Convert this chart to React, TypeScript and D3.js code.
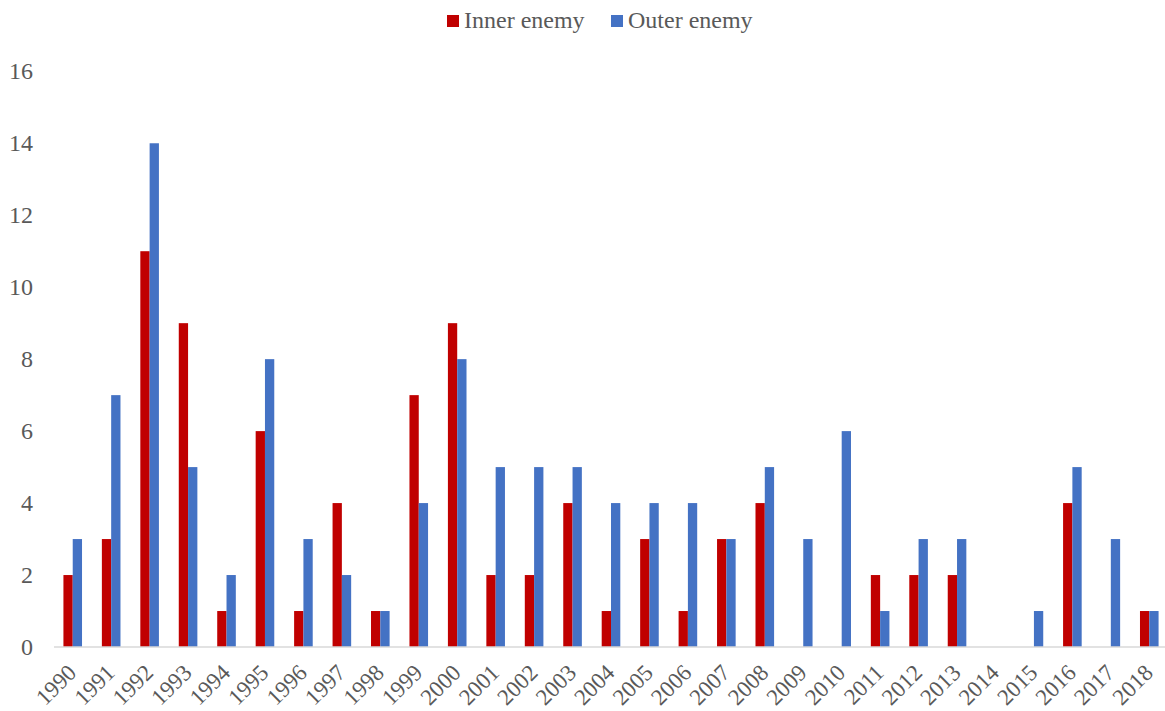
import React from "react";
import * as d3 from "d3";

const years = [
  "1990", "1991", "1992", "1993", "1994", "1995", "1996", "1997", "1998", "1999",
  "2000", "2001", "2002", "2003", "2004", "2005", "2006", "2007", "2008", "2009",
  "2010", "2011", "2012", "2013", "2014", "2015", "2016", "2017", "2018",
];
const innerEnemy = [2, 3, 11, 9, 1, 6, 1, 4, 1, 7, 9, 2, 2, 4, 1, 3, 1, 3, 4, 0, 0, 2, 2, 2, 0, 0, 4, 0, 1];
const outerEnemy = [3, 7, 14, 5, 2, 8, 3, 2, 1, 4, 8, 5, 5, 5, 4, 4, 4, 3, 5, 3, 6, 1, 3, 3, 0, 1, 5, 3, 1];
const seriesNames = ["Inner enemy", "Outer enemy"];
const seriesColors = ["#C00000", "#4472C4"];
const yTicks = [0, 2, 4, 6, 8, 10, 12, 14, 16];

const W = 1165;
const H = 711;
const FONT = '"Liberation Serif", "DejaVu Serif", serif';
const TEXT = "#595959";

export default function App() {
  const x = d3.scaleBand<string>().domain(years).range([53.5, 1168.5]).padding(0);
  const y = d3.scaleLinear().domain([0, 16]).range([647, 71.3]);
  const barW = 9.3;
  const inner = d3
    .scaleBand<string>()
    .domain(seriesNames)
    .range([x.bandwidth() / 2 - barW, x.bandwidth() / 2 + barW]);
  const series = [innerEnemy, outerEnemy];
  const textStyle: React.CSSProperties = { fontFamily: FONT, fontSize: 24, fill: TEXT };
  const xLabelStyle: React.CSSProperties = { fontFamily: FONT, fontSize: 23, fill: TEXT };

  return (
    <svg
      width={W}
      height={H}
      style={{ position: "absolute", left: 0, top: 0, background: "#fff", fontFamily: FONT }}
    >
      {/* legend */}
      <g>
        <rect x={447} y={15} width={12} height={12} fill={seriesColors[0]} />
        <text x={464} y={28} style={textStyle}>
          {seriesNames[0]}
        </text>
        <rect x={611} y={15} width={12} height={12} fill={seriesColors[1]} />
        <text x={628} y={28} style={textStyle}>
          {seriesNames[1]}
        </text>
      </g>

      {/* y tick labels */}
      {yTicks.map((t) => (
        <text key={t} x={33} y={y(t)} dy="0.34em" textAnchor="end" style={textStyle}>
          {t}
        </text>
      ))}

      {/* bars */}
      {series.map((vals, si) =>
        vals.map((v, i) =>
          v > 0 ? (
            <rect
              key={`${si}-${i}`}
              x={(x(years[i]) as number) + (inner(seriesNames[si]) as number)}
              y={y(v)}
              width={inner.bandwidth()}
              height={y(0) - y(v)}
              fill={seriesColors[si]}
            />
          ) : null
        )
      )}

      {/* x axis line */}
      <line x1={54} x2={W} y1={y(0)} y2={y(0)} stroke="#D9D9D9" strokeWidth={1.5} />

      {/* x tick labels */}
      {years.map((yr) => {
        const cx = (x(yr) as number) + x.bandwidth() / 2;
        return (
          <text
            key={yr}
            transform={`translate(${cx + 5},${674}) rotate(-45)`}
            textAnchor="end"
            style={xLabelStyle}
          >
            {yr}
          </text>
        );
      })}
    </svg>
  );
}
